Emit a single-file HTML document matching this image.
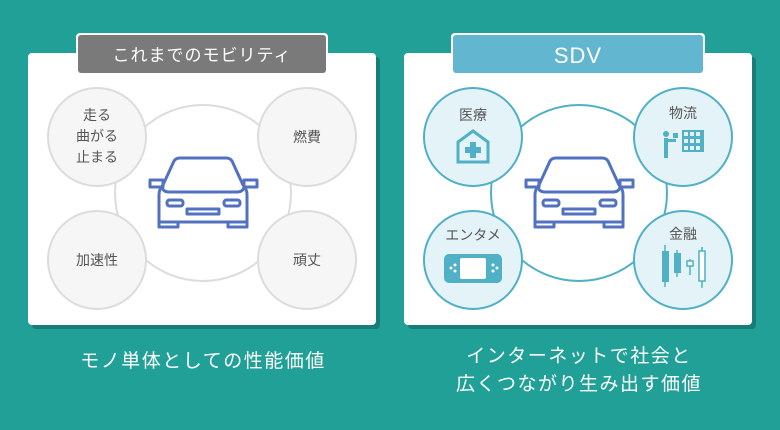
<!DOCTYPE html>
<html><head><meta charset="utf-8"><style>
body{margin:0;width:780px;height:425px;background:#20a096;overflow:hidden;font-family:"Liberation Sans","Noto Sans CJK JP",sans-serif;}
.t{font-family:"Liberation Sans","Noto Sans CJK JP",sans-serif;}
</style></head><body>
<svg width="780" height="425" viewBox="0 0 780 425" xmlns="http://www.w3.org/2000/svg">
<defs>
<g id="car" fill="none" stroke="#5272c0" stroke-width="3" stroke-linejoin="round">
 <path d="M10 65 L10 38 Q10 32 14 28 L25 4 Q27 1 31 1 L77 1 Q81 1 83 4 L94 28 Q98 32 98 38 L98 65 Z"/>
 <path d="M13 30 Q14 35 20 35 L88 35 Q94 35 95 30"/>
 <rect x="1" y="23" width="13" height="7"/><rect x="95" y="23" width="13" height="7"/>
 <rect x="18" y="43" width="16" height="6" rx="2.5"/><rect x="75" y="43" width="16" height="6" rx="2.5"/>
 <rect x="38" y="52" width="32" height="5"/>
 <path d="M10 65 L10 70 L29 70 L29 65 M79 65 L79 70 L98 70 L98 65"/>
</g>
</defs>
<!-- left card -->
<rect x="32" y="57" width="348" height="272" rx="4" fill="#177e77"/>
<rect x="28" y="53" width="348" height="272" rx="4" fill="#fff"/>
<rect x="76" y="33" width="252" height="42" rx="4" fill="#fff"/>
<rect x="78" y="35" width="248" height="38" rx="3" fill="#7a7a7a"/>
<text x="202" y="61" font-size="17" fill="#fff" text-anchor="middle" class="t" letter-spacing="1">これまでのモビリティ</text>
<circle cx="203" cy="193" r="88" fill="#fff" stroke="#dcdcdc" stroke-width="2"/>
<g fill="#f6f6f6" stroke="#dcdcdc" stroke-width="2">
<circle cx="97" cy="137" r="49"/><circle cx="307" cy="137" r="49"/>
<circle cx="97" cy="260" r="49"/><circle cx="307" cy="260" r="49"/></g>
<g font-size="14" fill="#555" text-anchor="middle" class="t">
<text x="97" y="120">走る</text><text x="97" y="141">曲がる</text><text x="97" y="162">止まる</text>
<text x="307" y="142">燃費</text><text x="97" y="265">加速性</text><text x="307" y="265">頑丈</text></g>
<use href="#car" x="149" y="157"/>
<!-- right card -->
<rect x="408" y="57" width="348" height="272" rx="4" fill="#177e77"/>
<rect x="404" y="53" width="348" height="272" rx="4" fill="#fff"/>
<rect x="451" y="33" width="254" height="42" rx="4" fill="#fff"/>
<rect x="453" y="35" width="250" height="38" rx="3" fill="#62b6cf"/>
<text x="578" y="63" font-size="22" fill="#fff" text-anchor="middle" class="t" letter-spacing="1">SDV</text>
<circle cx="579" cy="193" r="88" fill="#fff" stroke="#4fb0c6" stroke-width="2"/>
<g fill="#e4f3f8" stroke="#4fb0c6" stroke-width="2">
<circle cx="473" cy="137" r="49"/><circle cx="683" cy="137" r="49"/>
<circle cx="473" cy="260" r="49"/><circle cx="683" cy="260" r="49"/></g>
<g font-size="14" fill="#555" text-anchor="middle" class="t">
<text x="473" y="120">医療</text><text x="683" y="118">物流</text>
<text x="473" y="240">エンタメ</text><text x="683" y="239">金融</text></g>
<path d="M458 162 L458 142 L473 131 L488 142 L488 162 Z" fill="none" stroke="#4fb0c6" stroke-width="3"/>
<path d="M470 142 h6 v5 h5 v6 h-5 v5 h-6 v-5 h-5 v-6 h5 Z" fill="#4fb0c6"/>
<g fill="#4fb0c6"><circle cx="666" cy="134" r="3"/><rect x="664" y="138" width="4" height="20"/><rect x="666" y="139" width="10" height="3"/><rect x="673" y="133" width="5" height="5"/>
<rect x="682" y="130" width="22" height="22"/></g>
<g fill="#e4f3f8"><rect x="684" y="132" width="4" height="4"/><rect x="690" y="132" width="4" height="4"/><rect x="696" y="132" width="4" height="4"/>
<rect x="684" y="139" width="4" height="4"/><rect x="690" y="139" width="4" height="4"/><rect x="696" y="139" width="4" height="4"/>
<rect x="684" y="146" width="4" height="4"/><rect x="690" y="146" width="4" height="4"/><rect x="696" y="146" width="4" height="4"/></g>
<rect x="444" y="254" width="58" height="29" rx="5" fill="#4fb0c6"/>
<rect x="460" y="258" width="26" height="21" rx="2" fill="#fff"/>
<g fill="#fff"><circle cx="451" cy="268" r="1.5"/><circle cx="455" cy="265" r="1.5"/><circle cx="455" cy="271" r="1.5"/>
<circle cx="493" cy="265" r="1.5"/><circle cx="497" cy="268" r="1.5"/><circle cx="493" cy="271" r="1.5"/></g>
<g stroke="#4fb0c6" stroke-width="1.5"><line x1="665" y1="245" x2="665" y2="287"/><line x1="677" y1="250" x2="677" y2="277"/>
<line x1="690" y1="259" x2="690" y2="275"/><line x1="702" y1="247" x2="702" y2="288"/></g>
<g fill="#4fb0c6"><rect x="662" y="251" width="7" height="31"/><rect x="674" y="253" width="7" height="20"/></g>
<g fill="#fff" stroke="#4fb0c6" stroke-width="1.5"><rect x="687" y="261" width="6" height="5"/><rect x="699" y="251" width="6" height="30"/></g>
<use href="#car" x="525" y="157"/>
<g font-size="19" fill="#fff" text-anchor="middle" class="t" letter-spacing="1.5">
<text x="203" y="367">モノ単体としての性能価値</text>
<text x="579" y="362">インターネットで社会と</text>
<text x="579" y="390">広くつながり生み出す価値</text></g>
</svg>
</body></html>
